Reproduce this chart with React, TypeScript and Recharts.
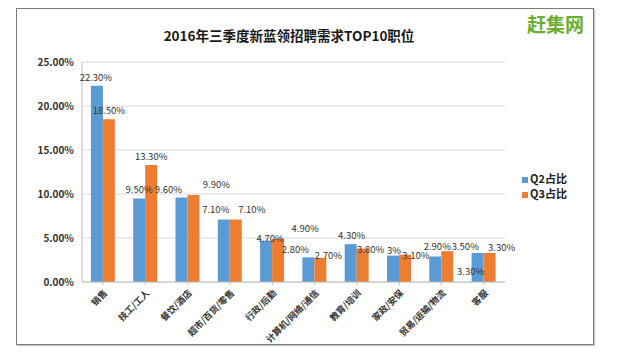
import { Bar, BarChart, CartesianGrid, LabelList, Legend, XAxis, YAxis } from "recharts";

const categories = [
  "销售",
  "技工/工人",
  "餐饮/酒店",
  "超市/百货/零售",
  "行政/后勤",
  "计算机/网络/通信",
  "教育/培训",
  "家政/安保",
  "贸易/运输/物流",
  "客服",
];
const q2Share = [22.3, 9.5, 9.6, 7.1, 4.7, 2.8, 4.3, 3.0, 2.9, 3.3];
const q3Share = [18.5, 13.3, 9.9, 7.1, 4.9, 2.7, 3.8, 3.1, 3.5, 3.3];
const yTicks = [0, 5, 10, 15, 20, 25];

// label nudges (px) so the value labels sit where the original placed them
const q2LabelNudge = [[-1, 0], [0, 0], [-13, 0], [-8, -2], [4, 6], [-13, 1], [1, 0], [1, 3], [2, -1], [-7, 27]];
const q3LabelNudge = [[0, 0], [0, 0], [23, -2], [16, -2], [27, -2], [8, 6], [8, 9], [11, 9], [18, 4], [12, 3]];

const data = categories.map((name, i) => ({ name, q2: q2Share[i], q3: q3Share[i] }));

const font = '"Noto Sans CJK SC", "Noto Sans", sans-serif';

const pct = (v: number) => (Number.isInteger(v) && v > 0 && v < 5 ? `${v}%` : `${v.toFixed(2)}%`);

function XTick(props: any) {
  const { x, y, payload } = props;
  return (
    <text
      x={x + 3}
      y={y + 5}
      transform={`rotate(-45, ${x + 3}, ${y + 5})`}
      textAnchor="end"
      dominantBaseline="middle"
      fontSize={9}
      fontWeight={700}
      fill="#333"
      fontFamily={font}
    >
      {payload.value}
    </text>
  );
}

const makeLabel = (nudge: number[][]) => (props: any) => {
  const { x, y, width, value, index } = props;
  const [dx, dy] = nudge[index] || [0, 0];
  return (
    <text
      x={x + width / 2 + dx}
      y={y - 9 + dy}
      textAnchor="middle"
      dominantBaseline="central"
      fontSize={9.5}
      fill="#333"
      fontFamily={font}
    >
      {pct(value)}
    </text>
  );
};

export default function App() {
  return (
    <div style={{ position: "relative", width: 619, height: 357, background: "#fff", fontFamily: font }}>
      <style>{`body{margin:0}`}</style>
      <div
        style={{
          position: "absolute",
          left: 16,
          top: 8,
          width: 576,
          height: 335,
          border: "1px solid #7a7a7a",
          boxShadow: "1px 1px 1px #c8c8c8",
        }}
      />
      <div
        style={{
          position: "absolute",
          left: 89,
          width: 400,
          top: 26,
          textAlign: "center",
          fontSize: 13.5,
          lineHeight: "18px",
          fontWeight: 700,
          color: "#1a1a1a",
        }}
      >
        2016年三季度新蓝领招聘需求TOP10职位
      </div>
      <div
        style={{
          position: "absolute",
          left: 527,
          top: 11,
          fontSize: 19,
          lineHeight: "26px",
          fontWeight: 700,
          color: "#6aad2f",
        }}
      >
        赶集网
      </div>
      <div style={{ position: "absolute", left: 0, top: 0 }}>
        <BarChart
          width={619}
          height={357}
          data={data}
          margin={{ top: 62, right: 114, left: 0, bottom: 0 }}
          barGap={0}
          barCategoryGap="21%"
        >
          <CartesianGrid vertical={false} stroke="#d9d9d9" />
          <XAxis
            dataKey="name"
            interval={0}
            height={75}
            tick={<XTick />}
            tickLine={{ stroke: "#bfbfbf" }}
            tickSize={3}
            axisLine={{ stroke: "#bfbfbf" }}
          />
          <YAxis
            width={82}
            domain={[0, 25]}
            ticks={yTicks}
            tickFormatter={(v: number) => `${v.toFixed(2)}%`}
            tick={{ fontSize: 10, fontWeight: 700, fill: "#333", fontFamily: font }}
            tickLine={false}
            axisLine={{ stroke: "#bfbfbf" }}
          />
          <Legend
            layout="vertical"
            align="center"
            verticalAlign="middle"
            iconType="square"
            iconSize={6}
            wrapperStyle={{
              left: 522,
              top: 171,
              width: 60,
              fontSize: 11,
              fontWeight: 700,
              lineHeight: "15px",
              textAlign: "left",
            }}
            formatter={(v: string) => <span style={{ color: "#222", marginLeft: -2 }}>{v}</span>}
          />
          <Bar dataKey="q2" name="Q2占比" fill="#5b9bd5" isAnimationActive={false}>
            <LabelList dataKey="q2" content={makeLabel(q2LabelNudge)} />
          </Bar>
          <Bar dataKey="q3" name="Q3占比" fill="#ed7d31" isAnimationActive={false}>
            <LabelList dataKey="q3" content={makeLabel(q3LabelNudge)} />
          </Bar>
        </BarChart>
      </div>
    </div>
  );
}
